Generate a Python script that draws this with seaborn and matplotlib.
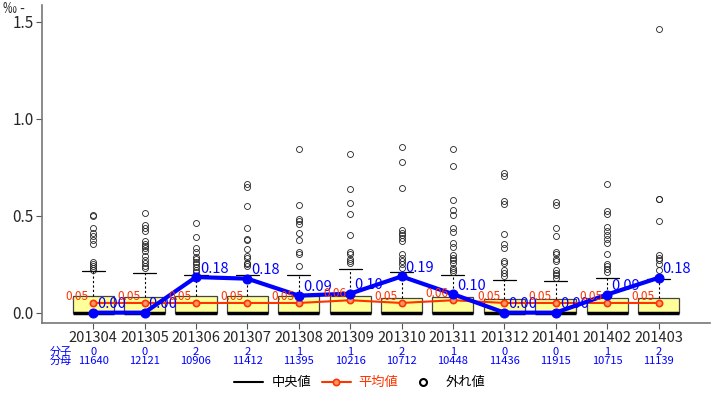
import numpy as np
import pandas as pd
import matplotlib
matplotlib.use("Agg")
import matplotlib.pyplot as plt
from matplotlib.lines import Line2D
import seaborn as sns

# ---------------- data ----------------
months = ["201304", "201305", "201306", "201307", "201308", "201309",
          "201310", "201311", "201312", "201401", "201402", "201403"]
numerators = [0, 0, 2, 2, 1, 1, 2, 1, 0, 0, 1, 2]
denominators = [11640, 12121, 10906, 11412, 11395, 10216,
                10712, 10448, 11436, 11915, 10715, 11139]
means = [0.05, 0.05, 0.05, 0.05, 0.05, 0.064, 0.05, 0.064, 0.05, 0.05, 0.05, 0.05]
q1 = [0.0] * 12
medians = [0.0] * 12
q3 = [0.085, 0.083, 0.085, 0.085, 0.085, 0.085, 0.078, 0.08, 0.07, 0.07, 0.078, 0.078]
whis_hi = [0.214, 0.203, 0.192, 0.196, 0.196, 0.225, 0.21, 0.192, 0.167, 0.161, 0.177, 0.172]
outliers = [
    [0.505, 0.50, 0.437, 0.41, 0.393, 0.372, 0.353, 0.259, 0.249, 0.238, 0.228, 0.22],
    [0.515, 0.451, 0.436, 0.42, 0.369, 0.355, 0.346, 0.335, 0.317, 0.291, 0.273, 0.255, 0.242, 0.232],
    [0.463, 0.391, 0.333, 0.312, 0.286, 0.274, 0.262, 0.249, 0.235, 0.221, 0.209],
    [0.664, 0.647, 0.548, 0.438, 0.381, 0.376, 0.329, 0.29, 0.283, 0.257, 0.25, 0.242],
    [0.845, 0.553, 0.481, 0.472, 0.455, 0.41, 0.372, 0.312, 0.304, 0.243],
    [0.819, 0.639, 0.567, 0.506, 0.398, 0.312, 0.304, 0.278, 0.266, 0.255],
    [0.852, 0.778, 0.644, 0.424, 0.41, 0.398, 0.386, 0.369, 0.3, 0.283, 0.266, 0.249, 0.232],
    [0.845, 0.757, 0.582, 0.531, 0.501, 0.438, 0.415, 0.36, 0.34, 0.295, 0.281, 0.269, 0.255, 0.232, 0.218, 0.209],
    [0.719, 0.702, 0.575, 0.561, 0.407, 0.355, 0.335, 0.266, 0.255, 0.218, 0.204, 0.187],
    [0.57, 0.553, 0.438, 0.393, 0.312, 0.3, 0.278, 0.266, 0.218, 0.204, 0.192, 0.18],
    [0.664, 0.523, 0.506, 0.441, 0.42, 0.398, 0.381, 0.358, 0.304, 0.249, 0.238, 0.224, 0.211],
    [1.463, 0.587, 0.584, 0.475, 0.295, 0.281, 0.269, 0.252, 0.221],
]
rates = [n / d * 1000 for n, d in zip(numerators, denominators)]
yticks = [0.0, 0.5, 1.0, 1.5]

# ---------------- style ----------------
sns.set_style("white")
plt.rcParams["font.family"] = ["Noto Sans CJK JP", "DejaVu Sans"]

BLUE = "#0000FF"
RED = "#FF3300"

fig = plt.figure(figsize=(7.2, 3.96), dpi=100)
ax = fig.add_axes([0.058, 0.184, 0.928, 0.803])

pos = np.arange(len(months))

stats = []
for i in range(len(months)):
    stats.append(dict(med=medians[i], q1=q1[i], q3=q3[i], whislo=q1[i],
                      whishi=whis_hi[i], fliers=outliers[i], label=months[i]))

ax.bxp(stats, positions=pos, widths=0.8, patch_artist=True,
       capwidths=0.45,
       boxprops=dict(facecolor="#FFFF99", edgecolor="#444444", linewidth=0.9),
       medianprops=dict(color="black", linewidth=2.5),
       whiskerprops=dict(color="black", linestyle=(0, (2, 2)), linewidth=0.8),
       capprops=dict(color="black", linewidth=0.9),
       flierprops=dict(marker="o", markersize=4.3, markerfacecolor="none",
                       markeredgecolor="#222222", markeredgewidth=0.6))

df = pd.DataFrame({"pos": pos, "mean": means, "rate": rates})
sns.lineplot(data=df, x="pos", y="mean", ax=ax, color=RED, linewidth=1.5,
             marker="o", markersize=4.5, markerfacecolor="#FF9966",
             markeredgecolor=RED, markeredgewidth=1.2, zorder=5)
sns.lineplot(data=df, x="pos", y="rate", ax=ax, color=BLUE, linewidth=3,
             marker="o", markersize=6.5, markerfacecolor=BLUE,
             markeredgecolor=BLUE, zorder=6)

for i in range(len(months)):
    ax.annotate(f"{means[i]:.2f}", (pos[i], means[i]), xytext=(-3, 5),
                textcoords="offset points", ha="right", va="center",
                color=RED, fontsize=8.5, zorder=7)
    ax.annotate(f"{rates[i]:.2f}", (pos[i], rates[i]), xytext=(3, 6),
                textcoords="offset points", ha="left", va="center",
                color=BLUE, fontsize=10.5, zorder=7)

ax.set_xlim(-1, 12)
ax.set_ylim(-0.054, 1.585)
ax.set_xticks(pos)
ax.set_xticklabels(months, fontsize=10.5)
ax.set_yticks(yticks)
ax.set_yticklabels([f"{t:.1f}" for t in yticks], fontsize=11)
ax.set_xlabel("")
ax.set_ylabel("")
ax.tick_params(axis="both", direction="out", length=4, width=0.8,
               color="#555555", left=True, bottom=True, pad=2)
for s in ["top", "right"]:
    ax.spines[s].set_visible(False)
for s in ["left", "bottom"]:
    ax.spines[s].set_color("#777777")
    ax.spines[s].set_linewidth(1.2)

fig.text(0.004, 0.978, "‰ -", fontsize=10, ha="left", va="center")

# numerator / denominator rows
trans = matplotlib.transforms.blended_transform_factory(ax.transData, fig.transFigure)
ax.text(-0.62, 0.111, "分子", transform=trans, color=BLUE, fontsize=8,
        ha="center", va="center")
ax.text(-0.62, 0.088, "分母", transform=trans, color=BLUE, fontsize=8,
        ha="center", va="center")
for i in range(len(months)):
    ax.text(pos[i], 0.111, str(numerators[i]), transform=trans, color=BLUE,
            fontsize=8, ha="center", va="center")
    ax.text(pos[i], 0.088, str(denominators[i]), transform=trans, color=BLUE,
            fontsize=8, ha="center", va="center")

handles = [
    Line2D([], [], color="black", linewidth=1.5),
    Line2D([], [], color=RED, linewidth=1.5, marker="o", markersize=4.5,
           markerfacecolor="#FF9966", markeredgecolor=RED, markeredgewidth=1.2),
    Line2D([], [], color="none", marker="o", markersize=5,
           markerfacecolor="none", markeredgecolor="black", markeredgewidth=1.5),
]
fig.legend(handles, ["中央値", "平均値", "外れ値"], loc="center",
           bbox_to_anchor=(0.5, 0.033), ncol=3, frameon=False, fontsize=9.5,
           labelcolor=["black", RED, "black"], handlelength=2.2,
           columnspacing=0.8, handletextpad=0.6)

fig.savefig("out.png", dpi=100)
